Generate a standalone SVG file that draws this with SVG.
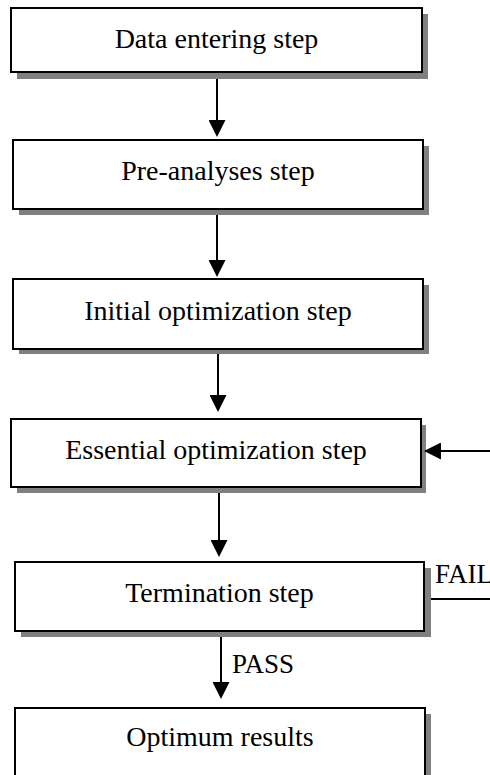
<svg xmlns="http://www.w3.org/2000/svg" width="490" height="775" viewBox="0 0 490 775">
<style>
.shadow{fill:#808080}
.box{fill:#fff;stroke:#000;stroke-width:2}
.label{font-family:"Liberation Serif","Times New Roman",serif;font-size:28px;text-anchor:middle;fill:#000}
.tag{font-family:"Liberation Serif","Times New Roman",serif;font-size:27px;fill:#000}
.conn{stroke:#000;stroke-width:2;fill:none}
</style>
<defs>
<marker id="ah" markerUnits="userSpaceOnUse" markerWidth="17" markerHeight="17" refX="15" refY="8.5" orient="auto">
<path d="M0,0 L17,8.5 L0,17 z" fill="#000"/>
</marker>
</defs>
<rect width="490" height="775" fill="#fff"/>
<g id="n1">
<rect class="shadow" x="17" y="14" width="411" height="65"/>
<rect class="box" x="11" y="8" width="411" height="64"/>
<text class="label" x="216.5" y="48">Data entering step</text>
</g>
<g id="n2">
<rect class="shadow" x="19" y="146" width="410" height="69"/>
<rect class="box" x="13" y="140" width="410" height="69"/>
<text class="label" x="218" y="180">Pre-analyses step</text>
</g>
<g id="n3">
<rect class="shadow" x="19" y="285" width="410" height="69"/>
<rect class="box" x="13" y="279" width="410" height="70"/>
<text class="label" x="218" y="320">Initial optimization step</text>
</g>
<g id="n4">
<rect class="shadow" x="17" y="425" width="409" height="68"/>
<rect class="box" x="11" y="419" width="410" height="68"/>
<text class="label" x="216" y="459">Essential optimization step</text>
</g>
<g id="n5">
<rect class="shadow" x="21" y="568" width="410" height="69"/>
<rect class="box" x="15" y="562" width="409" height="69"/>
<text class="label" x="219.5" y="602">Termination step</text>
</g>
<g id="n6">
<rect class="shadow" x="21" y="714" width="410" height="80"/>
<rect class="box" x="15" y="708" width="410" height="80"/>
<text class="label" x="220" y="746">Optimum results</text>
</g>
<g id="connectors">
<line class="conn" x1="217" y1="79" x2="217" y2="135" marker-end="url(#ah)"/>
<line class="conn" x1="217" y1="215" x2="217" y2="275" marker-end="url(#ah)"/>
<line class="conn" x1="218" y1="354" x2="218" y2="410" marker-end="url(#ah)"/>
<line class="conn" x1="219" y1="493" x2="219" y2="555" marker-end="url(#ah)"/>
<line class="conn" x1="221" y1="637" x2="221" y2="697" marker-end="url(#ah)"/>
<polyline class="conn" points="431,599 490,599"/>
<line class="conn" x1="490" y1="451" x2="426" y2="451" marker-end="url(#ah)"/>
<text class="tag" x="232" y="673">PASS</text>
<text class="tag" x="435" y="583">FAIL</text>
</g>
</svg>
